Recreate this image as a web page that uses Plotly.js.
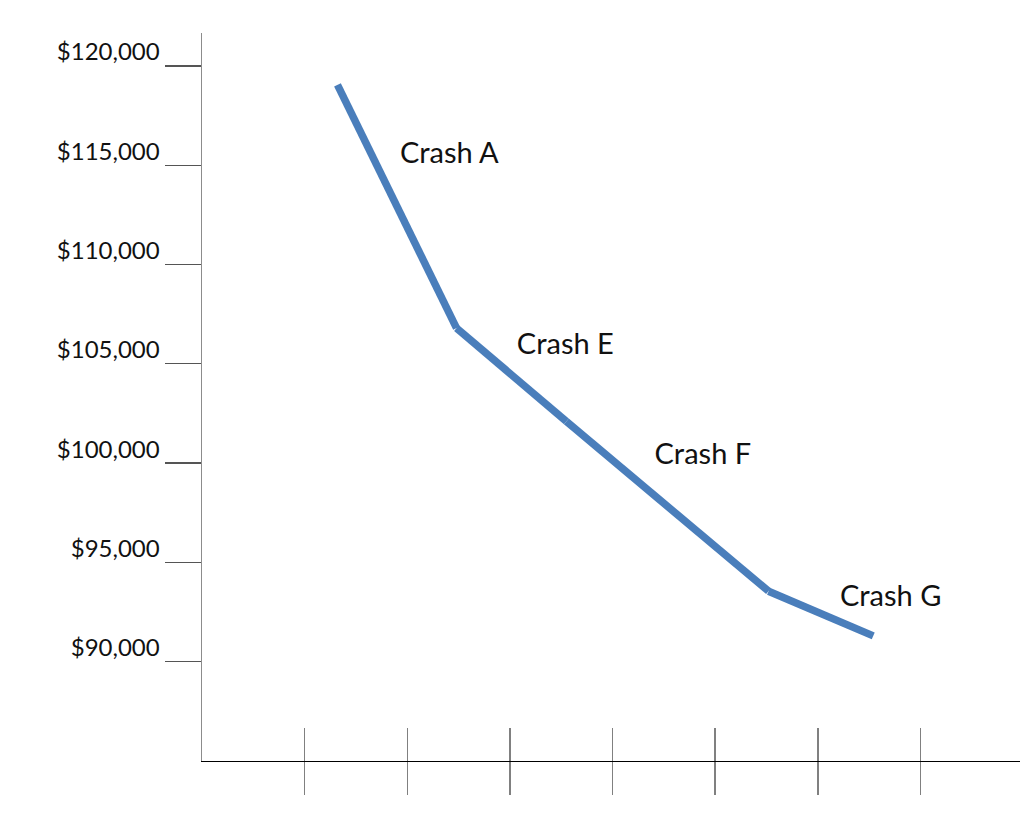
<!DOCTYPE html>
<html>
<head>
<meta charset="utf-8">
<script src="https://cdn.plot.ly/plotly-3.0.1.min.js"></script>
<style>
  html, body { margin: 0; padding: 0; background: #fff; }
  #chart { width: 1024px; height: 828px; }
</style>
</head>
<body>
<div id="chart"></div>
<script>
// price path (x in tick units, y in dollars)
var pathX = [1.32, 2.48, 3.55, 5.52, 6.54];
var pathY = [119050, 106800, 102100, 93550, 91300];

// crash labels
var labelX = [2.41, 3.54, 4.88, 6.71];
var labelY = [115500, 105850, 100330, 93190];
var labelText = ['Crash A', 'Crash E', 'Crash F', 'Crash G'];

var yTicks = [90000, 95000, 100000, 105000, 110000, 115000, 120000];
var yTickText = ['$90,000', '$95,000', '$100,000', '$105,000', '$110,000', '$115,000', '$120,000'];
var xTicks = [1, 2, 3, 4, 5, 6, 7];

// each crash is its own piece, so the joins show the little notches
var segX = [], segY = [];
for (var i = 0; i < pathX.length - 1; i++) {
  segX.push(pathX[i], pathX[i + 1], null);
  segY.push(pathY[i], pathY[i + 1], null);
}

var data = [
  {
    x: segX,
    y: segY,
    type: 'scatter',
    mode: 'lines',
    connectgaps: false,
    line: {color: '#4a7ebb', width: 7.5},
    hoverinfo: 'skip'
  },
  {
    // labels sit on the overlay axis (which also draws the upper half of the x ticks)
    x: labelX,
    y: labelY,
    xaxis: 'x2',
    type: 'scatter',
    mode: 'text',
    text: labelText,
    textposition: 'middle center',
    textfont: {family: 'Lato, "Open Sans", sans-serif', size: 29, color: '#111'},
    hoverinfo: 'skip'
  }
];

var xRange = [0, 7.97];

var layout = {
  width: 1024,
  height: 828,
  showlegend: false,
  paper_bgcolor: '#fff',
  plot_bgcolor: '#fff',
  margin: {l: 202, r: 4, t: 33, b: 67, pad: 0},
  xaxis: {
    range: xRange,
    showgrid: false,
    zeroline: false,
    showline: true,
    linecolor: '#000',
    linewidth: 1.3,
    tickmode: 'array',
    tickvals: xTicks,
    showticklabels: false,
    ticks: 'outside',
    ticklen: 33,
    tickwidth: 1.5,
    tickcolor: '#808080'
  },
  xaxis2: {
    overlaying: 'x',
    anchor: 'y',
    side: 'bottom',
    range: xRange,
    showgrid: false,
    zeroline: false,
    showline: false,
    tickmode: 'array',
    tickvals: xTicks,
    showticklabels: false,
    ticks: 'inside',
    ticklen: 33,
    tickwidth: 1.5,
    tickcolor: '#808080'
  },
  yaxis: {
    range: [85000, 121660],
    showgrid: false,
    zeroline: false,
    showline: true,
    linecolor: '#8c8c8c',
    linewidth: 1.5,
    tickmode: 'array',
    tickvals: yTicks,
    ticktext: yTickText,
    ticks: 'outside',
    ticklen: 36,
    tickwidth: 1.3,
    tickcolor: '#555',
    ticklabelshift: -14,
    ticklabelstandoff: 0,
    tickfont: {family: 'Lato, "Open Sans", sans-serif', size: 24, color: '#111'}
  }
};

var options = {
  staticPlot: true       // picture only
};

Plotly.newPlot('chart', data, layout, options);
</script>
</body>
</html>
